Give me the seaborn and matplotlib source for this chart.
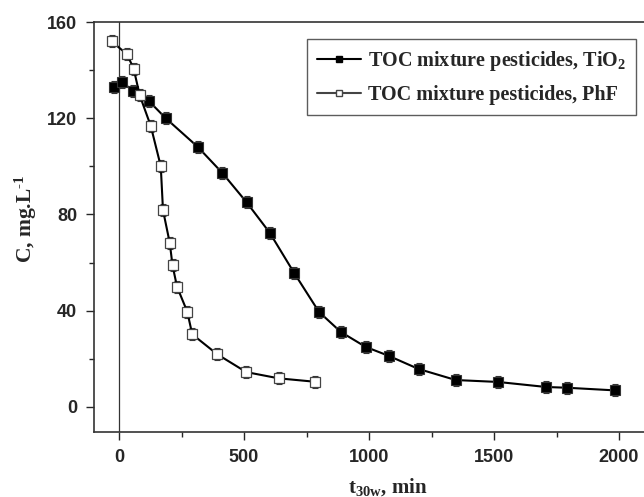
import matplotlib
matplotlib.use("Agg")
import matplotlib.pyplot as plt
from matplotlib.ticker import MultipleLocator
import seaborn as sns
import pandas as pd
from matplotlib.lines import Line2D

t_tio2 = [-19, 13, 56, 119, 187, 315, 413, 511, 603, 700, 800, 887, 986, 1080, 1198, 1347, 1516, 1709, 1791, 1983]
c_tio2 = [133.0, 135.0, 131.4, 127.2, 120.0, 108.1, 97.3, 85.0, 72.4, 55.8, 39.5, 31.2, 25.0, 21.2, 15.8, 11.2, 10.4, 8.3, 8.0, 6.9]
t_phf = [-30, 33, 59, 83, 127, 167, 176, 203, 214, 232, 273, 293, 393, 509, 639, 782]
c_phf = [152.0, 146.5, 140.4, 129.5, 116.8, 100.1, 81.8, 68.2, 58.9, 50.0, 39.6, 30.2, 21.9, 14.5, 11.9, 10.5]
err = 2.5

label_tio2 = "TOC mixture pesticides, TiO$_{2}$"
label_phf = "TOC mixture pesticides, PhF"

sns.set_style("ticks")
plt.rcParams["mathtext.fontset"] = "custom"
plt.rcParams["mathtext.rm"] = "Liberation Serif:bold"
plt.rcParams["mathtext.bf"] = "Liberation Serif:bold"
plt.rcParams["mathtext.it"] = "Liberation Serif:bold"
plt.rcParams["mathtext.default"] = "rm"

fig = plt.figure(figsize=(6.44, 4.97), dpi=100)
ax = fig.add_axes([94/644, 65/497, 552/644, 410/497])

df1 = pd.DataFrame({"t": t_tio2, "C": c_tio2})
df2 = pd.DataFrame({"t": t_phf, "C": c_phf})

ax.errorbar(t_tio2, c_tio2, yerr=err, fmt="none", ecolor="#333333", elinewidth=0.8, capsize=2.5, capthick=0.8, zorder=2)
ax.errorbar(t_phf, c_phf, yerr=err, fmt="none", ecolor="#333333", elinewidth=0.8, capsize=2.5, capthick=0.8, zorder=2)
sns.lineplot(data=df1, x="t", y="C", ax=ax, color="black", lw=1.5, marker="s", markersize=7,
             markerfacecolor="black", markeredgecolor="#333333", markeredgewidth=0.8, sort=False, zorder=3)
sns.lineplot(data=df2, x="t", y="C", ax=ax, color="black", lw=1.5, marker="s", markersize=7,
             markerfacecolor="white", markeredgecolor="#444444", markeredgewidth=0.9, sort=False, zorder=4)

ax.axvline(0, color="#333333", lw=0.9, zorder=1)

ax.set_xlim(-100, 2108)
ax.set_ylim(-10.4, 160)
ax.xaxis.set_major_locator(MultipleLocator(500))
ax.xaxis.set_minor_locator(MultipleLocator(250))
ax.yaxis.set_major_locator(MultipleLocator(40))
ax.yaxis.set_minor_locator(MultipleLocator(20))
ax.tick_params(which="major", length=6, width=1, direction="out", pad=6)
ax.tick_params(which="minor", length=3.5, width=1, direction="out")
for lbl in ax.get_xticklabels() + ax.get_yticklabels():
    lbl.set_fontfamily("Liberation Sans")
    lbl.set_fontweight("bold")
    lbl.set_fontsize(13)
for s in ax.spines.values():
    s.set_linewidth(1.2)
    s.set_color("#333333")

ax.set_xlabel("t$_{30w}$, min", fontfamily="Liberation Serif", fontweight="bold", fontsize=15)
ax.set_ylabel("C, mg.L$^{\\text{-1}}$", fontfamily="Liberation Serif", fontweight="bold", fontsize=15.5)
ax.xaxis.set_label_coords((388 - 94) / 552, -(476 - 432) / 410)
ax.xaxis.label.set_va("top")
ax.yaxis.set_label_coords((26 - 94) / 552, (432 - 219) / 410)
ax.yaxis.label.set_va("center")

handles = [
    Line2D([], [], color="black", lw=1.5, marker="s", markersize=5, markerfacecolor="black", markeredgecolor="black"),
    Line2D([], [], color="#444444", lw=1.5, marker="s", markersize=5, markerfacecolor="white", markeredgecolor="#444444"),
]
leg = fig.legend(handles, [label_tio2, label_phf], loc="upper left", bbox_to_anchor=(307/644, 1 - 39/497),
                 frameon=True, prop={"family": "Liberation Serif", "weight": "bold", "size": 14.5}, handlelength=2.2,
                 handletextpad=0.35, fancybox=False, edgecolor="#333333", borderpad=0.5, labelspacing=0.6,
                 borderaxespad=0)
leg.get_frame().set_linewidth(1.0)

fig.savefig("out.png", dpi=100)
